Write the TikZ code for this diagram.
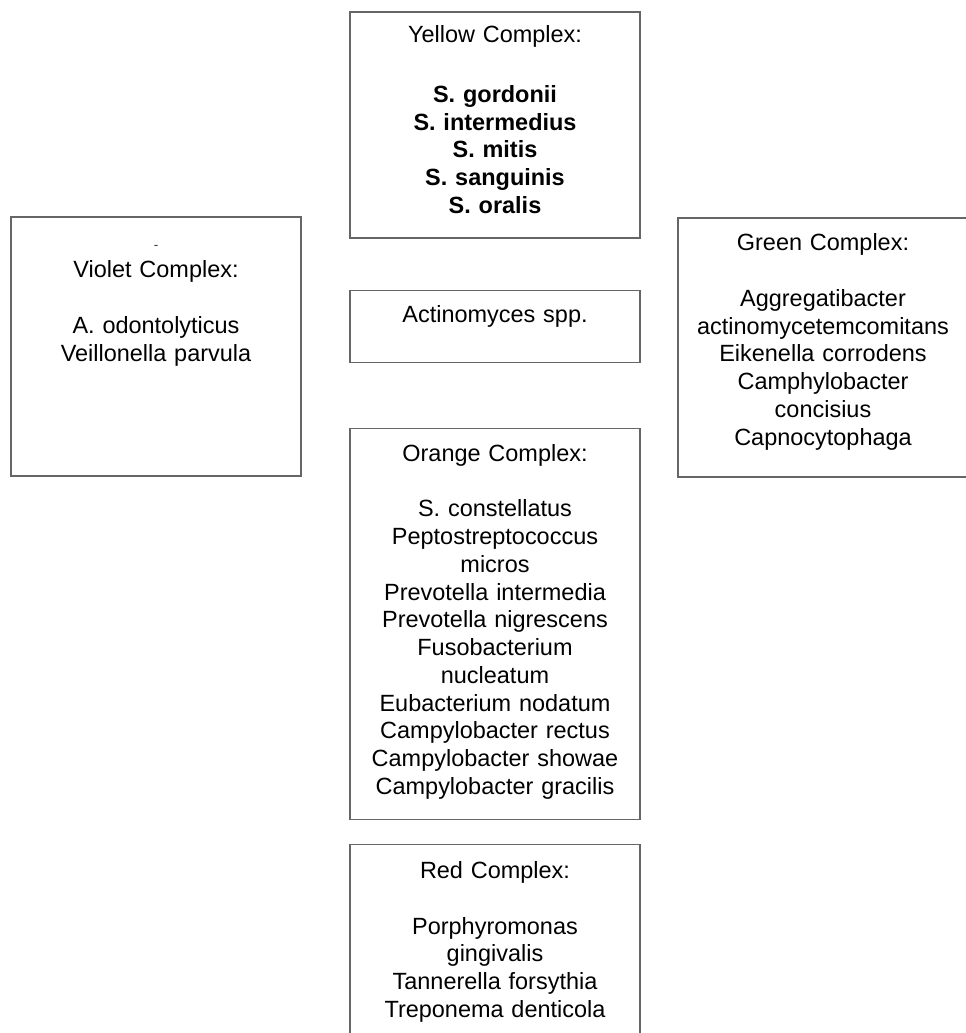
\documentclass[tikz,border=0pt]{standalone}
\usepackage{fontspec}
\setmainfont{Liberation Sans}
\usepackage{tikz}
\usetikzlibrary{positioning}

\begin{document}
\begin{tikzpicture}[
  x=0.75pt, y=-0.75pt,
  complexbox/.style={rectangle, draw=black!60, line width=0.9pt, inner sep=0pt,
                     minimum width=217.5pt},
  listtext/.style={text width=217pt, align=center, inner sep=0pt, anchor=base,
                   font=\fontsize{17.6pt}{20.8pt}\selectfont},
]
  \useasboundingbox (0,0) rectangle (966,1033);
  \clip (0,0) rectangle (966,1033);

  % Central column of boxes
  \node[complexbox, minimum height=169.5pt] (yellow) at (495,125) {};
  \node[complexbox, minimum height=54pt, below=38.25pt of yellow] (actino) {};
  \node[complexbox, minimum height=293.25pt, below=48.75pt of actino] (orange) {};
  \node[complexbox, minimum height=164.25pt, below=18pt of orange] (red) {};

  % Side boxes
  \node[complexbox, minimum height=194.25pt] (violet) at (156,346.5) {};
  \node[complexbox, minimum height=194.25pt] (green) at (823,347.5) {};

  % Texts
  \node[listtext] (yellowtxt) at ([yshift=-23.5pt]yellow.north)
    {Yellow Complex:\\[24pt]
     \bfseries S. gordonii\\ \bfseries S. intermedius\\ \bfseries S. mitis\\
     \bfseries S. sanguinis\\ \bfseries S. oralis};
  \node[listtext] (actinotxt) at ([yshift=-24.3pt]actino.north) {Actinomyces spp.};
  \node[listtext] (orangetxt) at ([yshift=-25pt]orange.north)
    {Orange Complex:\\[21pt]
     S. constellatus\\ Peptostreptococcus\\ micros\\ Prevotella intermedia\\
     Prevotella nigrescens\\ Fusobacterium\\ nucleatum\\ Eubacterium nodatum\\
     Campylobacter rectus\\ Campylobacter showae\\ Campylobacter gracilis};
  \node[listtext] (redtxt) at ([yshift=-25.8pt]red.north)
    {Red Complex:\\[21pt]
     Porphyromonas\\ gingivalis\\ Tannerella forsythia\\ Treponema denticola};
  \node[font=\fontsize{10pt}{10pt}\selectfont, inner sep=0pt, text=black!80]
    (violetmark) at ([yshift=-23.5pt]violet.north) {-};
  \node[listtext] (violettxt) at ([yshift=-46pt]violet.north)
    {Violet Complex:\\[21pt]
     A. odontolyticus\\ Veillonella parvula};
  \node[listtext] (greentxt) at ([yshift=-25pt]green.north)
    {Green Complex:\\[21pt]
     Aggregatibacter\\ actinomycetemcomitans\\ Eikenella corrodens\\
     Camphylobacter\\ concisius\\ Capnocytophaga};
\end{tikzpicture}
\end{document}
